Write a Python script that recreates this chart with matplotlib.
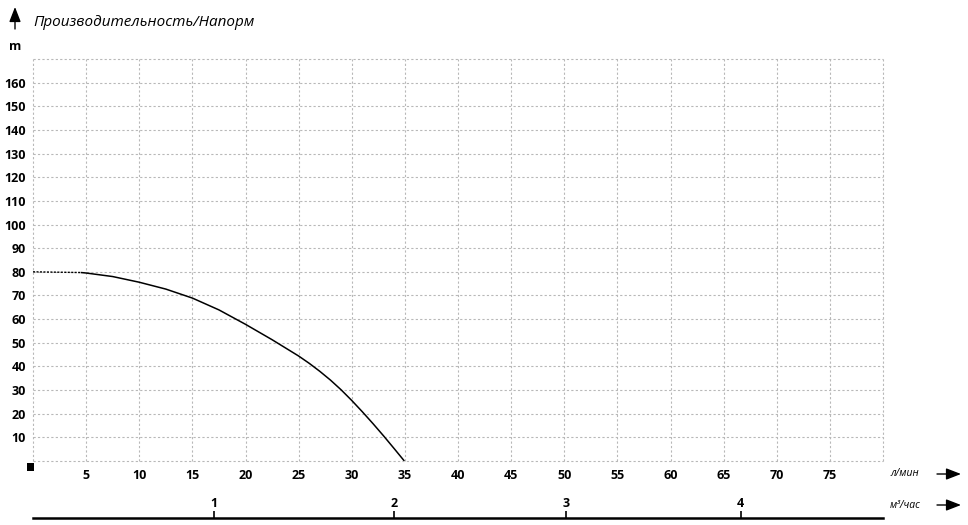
import matplotlib
matplotlib.use("Agg")
import matplotlib.pyplot as plt
from matplotlib.patches import Rectangle, FancyArrowPatch

# ---- data ----
title = "Производительность/Напорм"
y_unit = "m"
x_unit = "л/мин"
x2_unit = "м³/час"

x_ticks = [5, 10, 15, 20, 25, 30, 35, 40, 45, 50, 55, 60, 65, 70, 75]
y_ticks = [10, 20, 30, 40, 50, 60, 70, 80, 90, 100, 110, 120, 130, 140, 150, 160]
x_max = 80
y_max = 170

# m³/h ticks as placed on the picture (position in l/min)
m3h_pos = [17.0, 34.0, 50.2, 66.6]
m3h_labels = ["1", "2", "3", "4"]

# start of curve (dotted part)
flow_dot = [0, 4.5]
head_dot = [80.0, 79.7]
# pump curve (solid)
flow = [4.5, 5, 7.5, 10, 12.5, 15, 17.5, 20, 22.5, 25, 26, 27, 28, 29, 30, 31, 32, 33, 34, 34.95]
head = [79.7, 79.5, 78.0, 75.6, 72.7, 68.9, 63.9, 57.8, 51.3, 44.4, 41.3, 37.9, 34.2, 30.1, 25.6,
        20.8, 15.8, 10.6, 5.2, 0.0]

W, H = 968, 525
fig = plt.figure(figsize=(W / 100, H / 100), dpi=100)
fig.patch.set_facecolor("white")

L, R, T, B = 33, 883, 59, 461
ax = fig.add_axes([L / W, 1 - B / H, (R - L) / W, (B - T) / H])
ax.set_xlim(0, x_max)
ax.set_ylim(0, y_max)
for s in ax.spines.values():
    s.set_visible(False)

grid_kw = dict(color="#b8b8b8", lw=0.8, ls=(0, (2, 2)), zorder=1, clip_on=False)
for xv in [0] + x_ticks + [x_max]:
    ax.axvline(xv, **grid_kw)
for yv in [0] + y_ticks + [y_max]:
    ax.axhline(yv, **grid_kw)

ax.set_xticks(x_ticks)
ax.set_xticklabels([str(v) for v in x_ticks])
ax.set_yticks(y_ticks)
ax.set_yticklabels([str(v) for v in y_ticks])
ax.tick_params(length=0, labelsize=9)
ax.tick_params(axis="x", pad=6)
ax.tick_params(axis="y", pad=5)
for lab in ax.get_xticklabels() + ax.get_yticklabels():
    lab.set_fontweight("bold")
    lab.set_fontfamily("Open Sans")

ax.plot(flow_dot, head_dot, color="black", lw=1.0, ls=(0, (1.5, 1)), zorder=3)
ax.plot(flow, head, color="black", lw=1.1, zorder=3, solid_capstyle="butt",
        solid_joinstyle="round")

# secondary (m³/h) axis
ax2 = fig.add_axes([L / W, 1 - 518 / H, (R - L) / W, 0.0001])
ax2.set_xlim(0, x_max)
ax2.set_yticks([])
for k in ["top", "left", "right"]:
    ax2.spines[k].set_visible(False)
ax2.spines["bottom"].set_linewidth(1.8)
ax2.set_xticks(m3h_pos)
ax2.set_xticklabels(m3h_labels)
ax2.tick_params(axis="x", direction="in", length=5, width=1.2, bottom=True, top=False,
                labelbottom=False, labeltop=True, labelsize=9, pad=6)
for lab in ax2.get_xticklabels():
    lab.set_fontweight("bold")
    lab.set_fontfamily("Open Sans")

# texts
def px(x, y):
    return x / W, 1 - y / H

fig.text(*px(33, 22), title, fontsize=11, style="italic", family="Open Sans",
         ha="left", va="center")
fig.text(*px(15, 46), y_unit, fontsize=9, fontweight="bold", family="Open Sans",
         ha="center", va="center")
fig.text(*px(890, 474), x_unit, fontsize=7.5, style="italic", family="Open Sans",
         ha="left", va="center")
fig.text(*px(890, 505), x2_unit, fontsize=7.5, style="italic", family="Open Sans",
         ha="left", va="center")

def arrow(p0, p1):
    a = FancyArrowPatch(px(*p0), px(*p1), transform=fig.transFigure,
                        arrowstyle="-|>,head_length=9,head_width=3.5",
                        color="black", lw=1.0, mutation_scale=1,
                        shrinkA=0, shrinkB=0)
    fig.add_artist(a)

arrow((15, 29), (15, 7))
arrow((937, 474), (961, 474))
arrow((937, 505), (961, 505))

fig.add_artist(Rectangle(px(27, 471), 7 / W, 8 / H, transform=fig.transFigure,
                         facecolor="black", edgecolor="none"))

fig.savefig("out.png", dpi=100, facecolor="white")
